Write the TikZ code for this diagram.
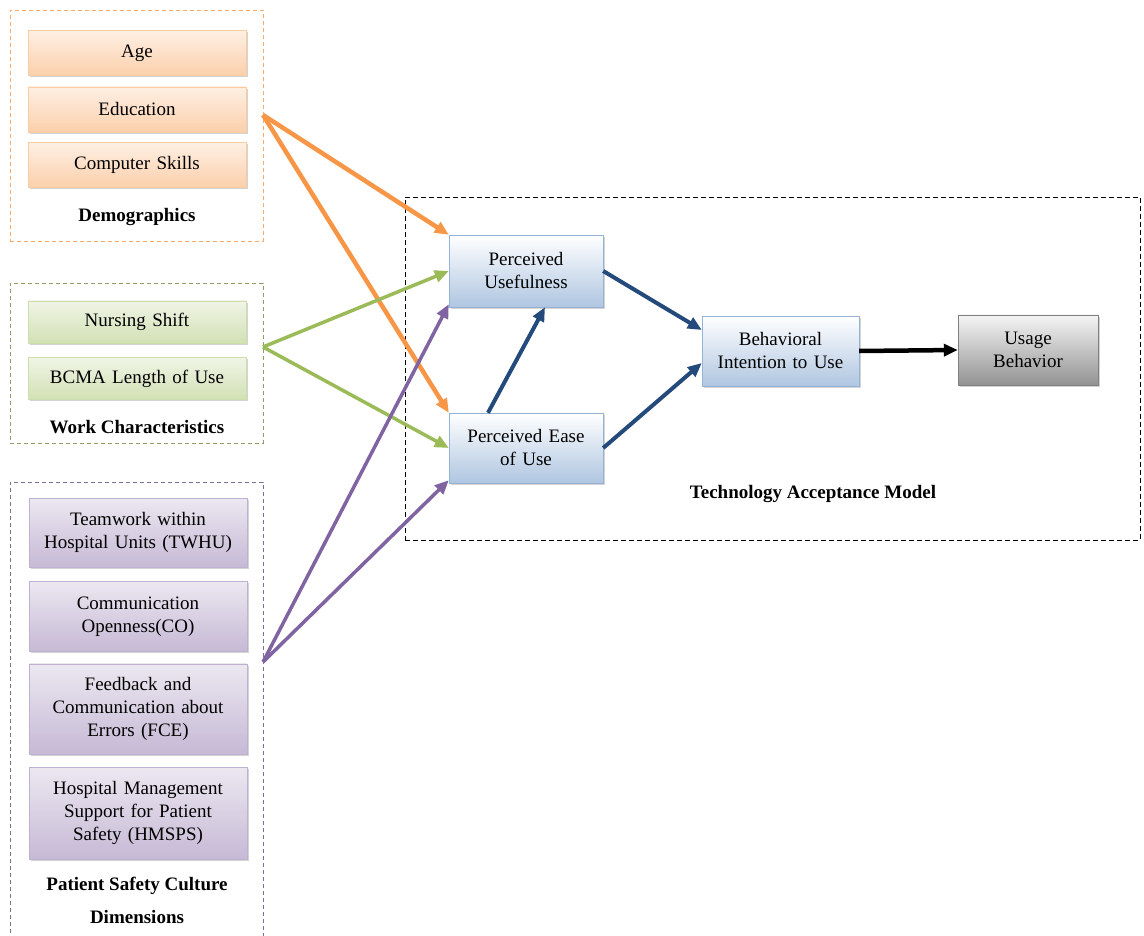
\documentclass[tikz,border=0pt]{standalone}
\usepackage{fontspec}
\setmainfont{Liberation Serif}
\usetikzlibrary{positioning,shadows,arrows.meta}
\definecolor{demo-orange}{HTML}{F79646}
\definecolor{work-green}{HTML}{9BBB59}
\definecolor{safety-purple}{HTML}{8064A2}
\definecolor{tam-blue}{HTML}{95B3D7}
\definecolor{tam-arrow}{HTML}{244A7C}
\tikzset{
    factor-box/.style = {rectangle, draw=#1!50, thin, top color=#1!15, middle color=white, bottom color=#1!45,
        drop shadow={shadow xshift=2pt, shadow yshift=-2pt, opacity=0.35}, align=center,
        text width=200pt, inner xsep=9pt, minimum height=45pt, font=\fontsize{19}{23}\selectfont},
    tam-box/.style = {rectangle, draw=tam-blue, thin, top color=white, bottom color=tam-blue!75,
        drop shadow={shadow xshift=2pt, shadow yshift=-2pt, opacity=0.35}, align=center,
        text width=140pt, inner xsep=7pt, minimum height=70pt, font=\fontsize{19}{23}\selectfont},
    group-box/.style = {rectangle, draw=#1, dash pattern=on 4pt off 3pt, thin, minimum width=253pt},
    group-label/.style = {align=center, font=\fontsize{19}{23}\selectfont\bfseries},
    link/.style = {draw=#1, line width=3.5pt, -{Triangle[length=14pt,width=12pt]}},
}

\begin{document}
\begin{tikzpicture}[x=1pt, y=-1pt]
\useasboundingbox (0,0) rectangle (1144,936);
% groups of factors
\node[group-box=demo-orange!80, minimum height=231pt] (demo) at (136.5,125.5) {};
\node[group-box=work-green!50!gray, minimum height=160pt] (work) at (136.5,363) {};
\node[group-box=safety-purple!70!gray, minimum height=454pt] (safety) at (136.5,709) {};
\node[group-box=black, minimum width=735pt, minimum height=343pt, dash pattern=on 5pt off 3pt] (tam) at (772.5,368.5) {};

% demographics
\node[factor-box=demo-orange] (age) at (137,53) {Age};
\node[factor-box=demo-orange, below=11pt of age] (edu) {Education};
\node[factor-box=demo-orange, below=10pt of edu] (skills) {Computer Skills};
\node[group-label] (demolabel) at (137,217) {Demographics};

% work characteristics
\node[factor-box=work-green, minimum height=42pt] (shift) at (137,322) {Nursing Shift};
\node[factor-box=work-green, minimum height=42pt, below=14pt of shift] (bcma) {BCMA Length of Use};
\node[group-label] (worklabel) at (137,427) {Work Characteristics};

% patient safety culture
\node[factor-box=safety-purple, minimum height=69pt] (twhu) at (138,532.5) {Teamwork within\\Hospital Units (TWHU)};
\node[factor-box=safety-purple, minimum height=70pt, below=14pt of twhu] (co) {Communication\\Openness(CO)};
\node[factor-box=safety-purple, minimum height=90pt, below=12pt of co] (fce) {Feedback and\\Communication about\\Errors (FCE)};
\node[factor-box=safety-purple, minimum height=92pt, below=13pt of fce] (hmsps) {Hospital Management\\Support for Patient\\Safety (HMSPS)};
\node[group-label] (safetylabel) at (137,900) {Patient Safety Culture\\[10pt]Dimensions};

% technology acceptance model
\node[tam-box, minimum height=72pt] (pu) at (526,271) {Perceived\\Usefulness};
\node[tam-box] (peou) at (526,448) {Perceived Ease\\of Use};
\node[tam-box, text width=143pt] (bi) at (780.5,351) {Behavioral\\Intention to Use};
\node[tam-box, top color=gray!8, bottom color=gray!85, draw=gray, text width=126pt] (ub) at (1028,350) {Usage\\Behavior};
\node[group-label] (tamlabel) at (813,494) {Technology Acceptance Model};

% connectors
\coordinate (demoout) at (263,115);
\coordinate (workout) at (263,347);
\coordinate (safetyout) at (263,662);
\draw[link=demo-orange, line width=4.5pt] (demoout) -- (pu.north west);
\draw[link=demo-orange, line width=4.5pt] (demoout) -- (peou.north west);
\draw[link=work-green] (workout) -- (pu.west);
\draw[link=work-green] (workout) -- (peou.west);
\draw[link=safety-purple] (safetyout) -- ([yshift=3pt]pu.south west);
\draw[link=safety-purple] (safetyout) -- ([yshift=3pt]peou.south west);
\draw[link=tam-arrow, line width=4pt] (pu.east) -- ([yshift=21pt]bi.west);
\draw[link=tam-arrow, line width=4pt] (peou.east) -- ([yshift=-12pt]bi.west);
\draw[link=tam-arrow, line width=4pt] ([xshift=-38pt]peou.north) -- ([xshift=19pt]pu.south);
\draw[link=black, line width=4.5pt] (bi.east) -- (ub.west);
\end{tikzpicture}
\end{document}
